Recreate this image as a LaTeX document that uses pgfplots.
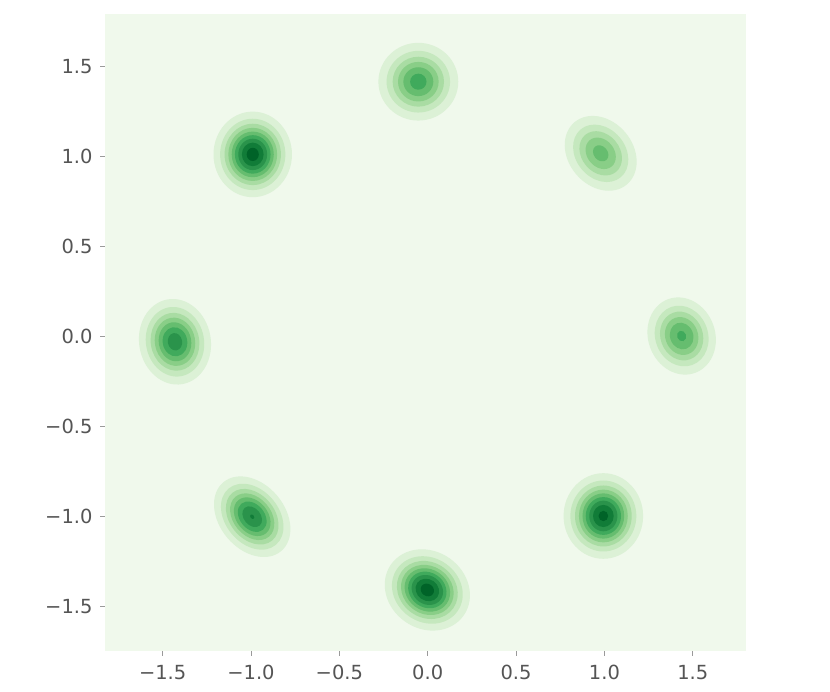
\documentclass[border=0pt]{standalone}
\usepackage{fontspec}
\setmainfont{DejaVu Sans}
\usepackage{pgfplots}
\usepackage{pgfplotstable}
\pgfplotsset{compat=1.18}

\definecolor{bg}{RGB}{240,249,236}
\definecolor{txt}{HTML}{555555}
\definecolor{tk}{HTML}{9A9A9A}

% filled ellipse mark, radii in pt, rotated by ang
\pgfdeclareplotmark{blob}{%
  \pgfpathellipse{\pgfpointorigin}{\pgfpointpolar{\angA}{\rxpt pt}}{\pgfpointpolar{\angB}{\rypt pt}}%
  \pgfusepathqfill}

% density contour bands: centre, level, half axes (data units), angle
\pgfplotstableread{
x      y      lev rx    ry    ang
-0.053  1.417 1   0.224 0.218 0
-0.990  1.013 1   0.220 0.240 0
 0.979  1.019 1   0.228 0.181 130
-1.430 -0.028 1   0.241 0.201 100
 1.437  0.004 1   0.220 0.188 110
-0.993 -1.000 1   0.252 0.183 130
 0.994 -0.996 1   0.223 0.240 0
-0.002 -1.407 1   0.249 0.217 145
-0.053  1.417 2   0.178 0.173 0
-0.990  1.013 2   0.183 0.200 0
 0.979  1.019 2   0.175 0.139 130
-1.430 -0.028 2   0.196 0.163 100
 1.437  0.004 2   0.173 0.148 110
-0.993 -1.000 2   0.206 0.150 130
 0.994 -0.996 2   0.185 0.199 0
-0.002 -1.407 2   0.207 0.180 145
-0.053  1.417 3   0.144 0.140 0
-0.990  1.013 3   0.158 0.172 0
 0.979  1.019 3   0.135 0.107 130
-1.430 -0.028 3   0.163 0.136 100
 1.437  0.004 3   0.139 0.119 110
-0.993 -1.000 3   0.174 0.126 130
 0.994 -0.996 3   0.159 0.171 0
-0.002 -1.407 3   0.178 0.155 145
-0.053  1.417 4   0.114 0.111 0
-0.990  1.013 4   0.137 0.149 0
 0.979  1.019 4   0.096 0.076 130
-1.430 -0.028 4   0.136 0.113 100
 1.437  0.004 4   0.108 0.092 110
-0.993 -1.000 4   0.146 0.106 130
 0.994 -0.996 4   0.137 0.148 0
-0.002 -1.407 4   0.154 0.134 145
-0.053  1.417 5   0.084 0.081 0
-0.990  1.013 5   0.118 0.128 0
 0.979  1.019 5   0.049 0.039 130
-1.430 -0.028 5   0.110 0.091 100
 1.437  0.004 5   0.076 0.065 110
-0.993 -1.000 5   0.121 0.088 130
 0.994 -0.996 5   0.117 0.127 0
-0.002 -1.407 5   0.133 0.116 145
-0.053  1.417 6   0.046 0.045 0
-0.990  1.013 6   0.100 0.108 0
-1.430 -0.028 6   0.082 0.069 100
 1.437  0.004 6   0.030 0.025 110
-0.993 -1.000 6   0.095 0.069 130
 0.994 -0.996 6   0.099 0.106 0
-0.002 -1.407 6   0.112 0.098 145
-0.990  1.013 7   0.081 0.088 0
-1.430 -0.028 7   0.049 0.040 100
-0.993 -1.000 7   0.065 0.047 130
 0.994 -0.996 7   0.079 0.086 0
-0.002 -1.407 7   0.092 0.080 145
-0.990  1.013 8   0.061 0.066 0
-0.993 -1.000 8   0.014 0.010 130
 0.994 -0.996 8   0.058 0.062 0
-0.002 -1.407 8   0.069 0.060 145
-0.990  1.013 9   0.034 0.037 0
 0.994 -0.996 9   0.027 0.029 0
-0.002 -1.407 9   0.039 0.034 145
}\blobs

\begin{document}
\begin{tikzpicture}
\useasboundingbox (-75.6pt,-29.5pt) rectangle (522pt,468.7pt);
\begin{axis}[
    at={(0,0)}, anchor=south west,
    scale only axis,
    width=461.5pt, height=458.6pt,
    xmin=-1.826, xmax=1.801,
    ymin=-1.746, ymax=1.793,
    axis background/.style={fill=bg},
    axis line style={draw=none},
    tick align=outside,
    major tick length=3.5pt,
    tick style={color=tk, line width=0.6pt},
    xtick={-1.5,-1,-0.5,0,0.5,1,1.5},
    ytick={-1.5,-1,-0.5,0,0.5,1,1.5},
    xticklabels={−1.5,−1.0,−0.5,0.0,0.5,1.0,1.5},
    yticklabels={−1.5,−1.0,−0.5,0.0,0.5,1.0,1.5},
    ticklabel style={font=\fontsize{14}{17}\selectfont, text=txt},
    xticklabel style={yshift=-3pt},
    yticklabel style={xshift=-2pt},
    xtick pos=bottom, ytick pos=left,
    colormap={greens}{rgb255=(247,252,245) rgb255=(229,245,224) rgb255=(199,233,192)
      rgb255=(161,217,155) rgb255=(116,196,118) rgb255=(65,171,93)
      rgb255=(35,139,69) rgb255=(0,109,44) rgb255=(0,68,27)},
    point meta min=-0.753, point meta max=10.0,
  ]
  \addplot[
    scatter, only marks, mark=blob,
    scatter/use mapped color={draw=none, fill=mapped color},
    point meta=explicit,
    visualization depends on={\thisrow{rx}*128.4 \as \rxpt},
    visualization depends on={\thisrow{ry}*128.4 \as \rypt},
    visualization depends on={\thisrow{ang} \as \angA},
    visualization depends on={\thisrow{ang}+90 \as \angB},
  ] table[x=x, y=y, meta=lev] {\blobs};
\end{axis}
\end{tikzpicture}
\end{document}
